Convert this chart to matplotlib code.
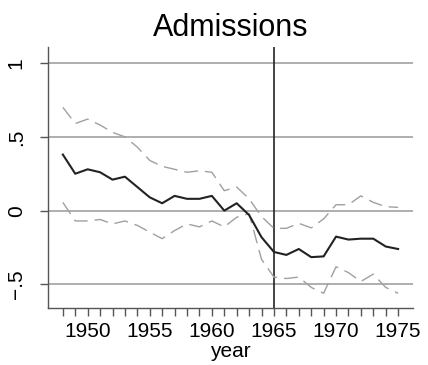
import matplotlib
matplotlib.use("Agg")
import matplotlib.pyplot as plt
import numpy as np

plt.rcParams["font.family"] = ["Liberation Sans", "DejaVu Sans"]

# yearly estimate with upper / lower band
years = list(range(1948, 1976))
estimate = [0.38, 0.25, 0.28, 0.26, 0.21, 0.23, 0.16, 0.09, 0.05, 0.10,
            0.08, 0.08, 0.10, 0.00, 0.05, -0.03, -0.18, -0.28, -0.30, -0.26,
            -0.315, -0.31, -0.176, -0.196, -0.19, -0.19, -0.243, -0.26]
upper = [0.70, 0.59, 0.62, 0.58, 0.53, 0.50, 0.43, 0.34, 0.30, 0.28,
         0.26, 0.27, 0.26, 0.135, 0.16, 0.08, -0.04, -0.12, -0.12, -0.086,
         -0.117, -0.056, 0.04, 0.04, 0.10, 0.056, 0.027, 0.022]
lower = [0.056, -0.07, -0.07, -0.06, -0.09, -0.07, -0.10, -0.146, -0.19, -0.135,
         -0.09, -0.11, -0.07, -0.11, -0.045, -0.02, -0.33, -0.45, -0.46, -0.45,
         -0.52, -0.56, -0.38, -0.42, -0.48, -0.43, -0.52, -0.56]

year_ticks = [1950, 1955, 1960, 1965, 1970, 1975]
y_ticks = [-0.5, 0, 0.5, 1]
y_labels = ["\u2212.5", "0", ".5", "1"]
break_year = 1965

fig = plt.figure(figsize=(4.28, 3.65), dpi=100)
ax = fig.add_axes([0.112, 0.156, 0.853, 0.715])

for v in y_ticks:
    ax.axhline(v, color="#a8a8a8", lw=1.3, zorder=1)
ax.axvline(break_year, color="#222222", lw=1.2, zorder=2)

ax.plot(years, upper, color="#a0a0a0", lw=1.0, dashes=(10, 5), zorder=3)
ax.plot(years, lower, color="#a0a0a0", lw=1.0, dashes=(10, 5), zorder=3)
ax.plot(years, estimate, color="#222222", lw=1.5, zorder=4)

ax.set_xlim(1946.8, 1976.2)
ax.set_ylim(-0.66, 1.108)

ax.set_xticks(year_ticks)
ax.set_xticks(years, minor=True)
ax.tick_params(axis="x", which="both", direction="out", length=6, width=1,
               color="#555555", labelsize=15, pad=4)
ax.set_yticks(y_ticks)
ax.set_yticklabels(y_labels, rotation=90, va="center")
ax.tick_params(axis="y", direction="out", length=6, width=1,
               color="#555555", labelsize=15, pad=10)

for s in ["top", "right"]:
    ax.spines[s].set_visible(False)
for s in ["left", "bottom"]:
    ax.spines[s].set_color("#555555")
    ax.spines[s].set_linewidth(1.0)

ax.set_xlabel("year", fontsize=15, labelpad=1)
ax.set_title("Admissions", fontsize=22, pad=8)

fig.savefig("out.png", dpi=100)
